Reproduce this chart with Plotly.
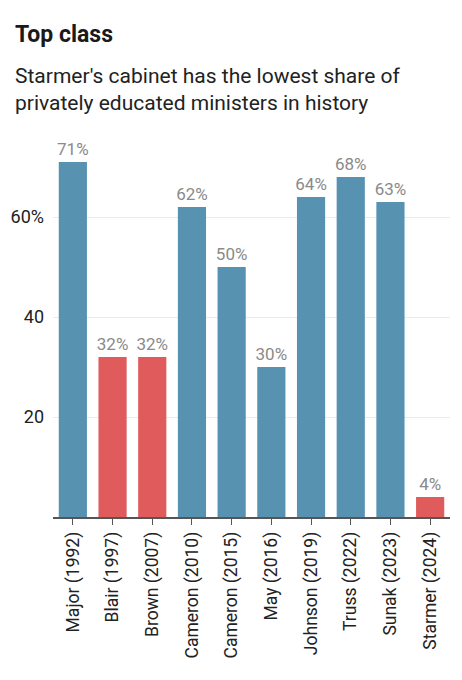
import plotly.graph_objects as go

# cabinets and share of privately educated ministers (%)
cabinets = ["Major (1992)", "Blair (1997)", "Brown (2007)", "Cameron (2010)",
            "Cameron (2015)", "May (2016)", "Johnson (2019)", "Truss (2022)",
            "Sunak (2023)", "Starmer (2024)"]
share = [71, 32, 32, 62, 50, 30, 64, 68, 63, 4]
party = ["Con", "Lab", "Lab", "Con", "Con", "Con", "Con", "Con", "Con", "Lab"]

party_colours = {"Con": "#5792b1", "Lab": "#e05b5b"}
bar_colours = [party_colours[p] for p in party]

fig = go.Figure(go.Bar(
    x=cabinets,
    y=share,
    marker=dict(color=bar_colours, line=dict(width=0)),
    text=share,
    texttemplate="%{text}%",
    textposition="outside",
    constraintext="none",
    textfont=dict(family="Roboto", size=17, color="#8a8a8a"),
    cliponaxis=False,
))

fig.update_layout(
    width=462, height=680,
    margin=dict(l=53, r=12, t=140, b=163),
    paper_bgcolor="white", plot_bgcolor="white",
    bargap=0.29,
    showlegend=False,
    font=dict(family="Roboto", color="#222222"),
    xaxis=dict(
        tickangle=-90,
        tickfont=dict(size=17.5, color="#222222"),
        showline=True, linecolor="#555555", linewidth=1.5,
        ticks="outside", ticklen=6, tickcolor="#555555",
        showgrid=False, automargin=False,
    ),
    yaxis=dict(
        range=[0, 75.4],
        tickvals=[20, 40, 60],
        ticktext=["20", "40", "60%"],
        tickfont=dict(size=18, color="#222222"),
        showgrid=True, gridcolor="#ebebeb", gridwidth=1,
        zeroline=False, showline=False,
        ticks="", ticklabelstandoff=8, automargin=False,
    ),
    annotations=[
        dict(text="<b>Top class</b>", x=13, y=680 - 35, xref="paper", yref="paper",
             showarrow=False, xanchor="left", yanchor="middle",
             font=dict(size=23, color="#1a1a1a")),
        dict(text="Starmer's cabinet has the lowest share of<br>privately educated ministers in history",
             x=13, y=680 - 89, xref="paper", yref="paper",
             showarrow=False, xanchor="left", yanchor="middle", align="left",
             font=dict(size=21, color="#222222")),
    ],
)

# annotation positions given in pixels -> convert to paper coords
ph = 680 - 140 - 163
pw = 462 - 53 - 12
for a in fig.layout.annotations:
    a.x = (a.x - 53) / pw
    a.y = (a.y - 163) / ph

# drop the browser's default body margin so the figure sits at 0,0
fig.write_html("out.html", config={"displayModeBar": False},
               post_script="document.body.style.margin='0px';")
